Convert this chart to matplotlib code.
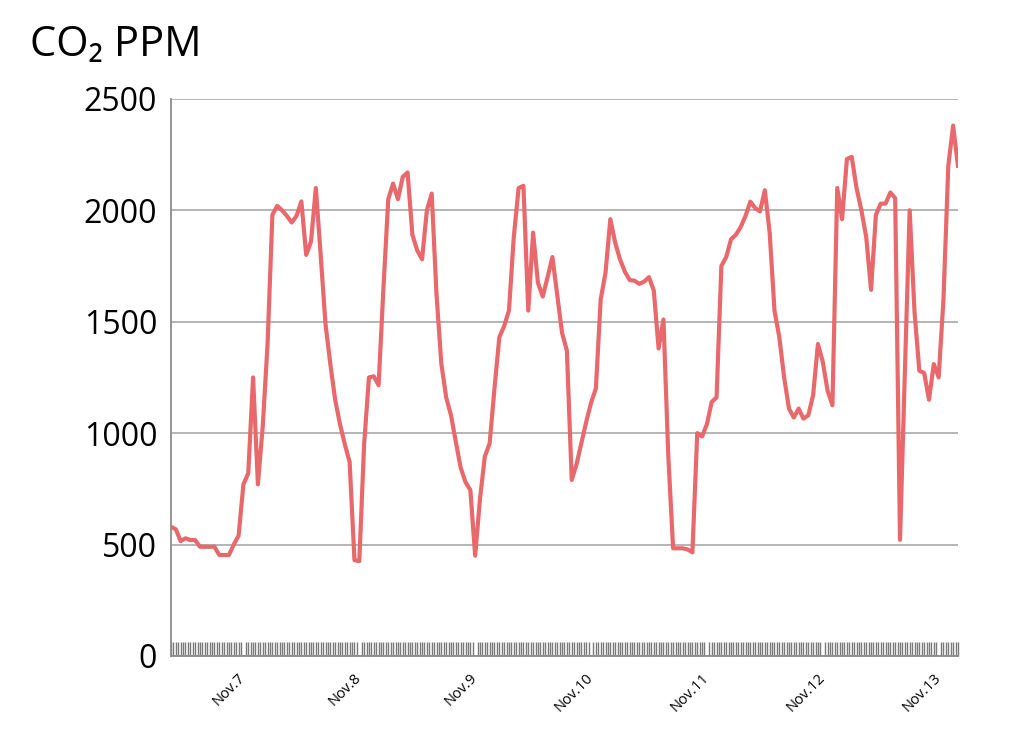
# CO2 concentration over one week (hourly readings)

import numpy as np
import matplotlib
matplotlib.use("Agg")
import matplotlib.pyplot as plt
from matplotlib.ticker import MultipleLocator

# hourly CO2 readings (ppm)
co2_ppm = [
    580, 568, 515, 528, 520, 520, 490, 490, 490, 490,
    453, 453, 453, 500, 540, 770, 820, 1250, 770, 1030,
    1400, 1980, 2020, 2000, 1975, 1945, 1975, 2040, 1800, 1860,
    2100, 1800, 1490, 1310, 1150, 1040, 950, 870, 430, 425,
    950, 1250, 1255, 1215, 1650, 2050, 2120, 2050, 2150, 2170,
    1890, 1820, 1780, 2000, 2075, 1620, 1310, 1160, 1080, 960,
    845, 780, 745, 450, 705, 895, 954, 1200, 1430, 1480,
    1550, 1880, 2100, 2110, 1550, 1900, 1675, 1613, 1700, 1790,
    1620, 1450, 1370, 790, 860, 955, 1050, 1136, 1200, 1600,
    1720, 1960, 1855, 1780, 1725, 1687, 1684, 1670, 1680, 1700,
    1640, 1380, 1510, 900, 483, 483, 483, 478, 465, 1000,
    985, 1040, 1140, 1160, 1750, 1790, 1870, 1890, 1925, 1975,
    2039, 2010, 1995, 2090, 1900, 1550, 1430, 1250, 1110, 1070,
    1110, 1065, 1080, 1170, 1400, 1320, 1190, 1125, 2100, 1960,
    2230, 2240, 2099, 2000, 1880, 1643, 1979, 2030, 2030, 2080,
    2054, 521, 1270, 2000, 1545, 1280, 1270, 1150, 1310, 1250,
    1600, 2200, 2380, 2200,
]
day_labels = ["Nov.7", "Nov.8", "Nov.9", "Nov.10", "Nov.11", "Nov.12", "Nov.13"]
day_hours = [15, 39, 63, 87, 111, 135, 159]
y_ticks = [0, 500, 1000, 1500, 2000, 2500]

hours = np.arange(len(co2_ppm))

plt.rcParams["font.family"] = ["Open Sans", "DejaVu Sans"]

fig = plt.figure(figsize=(10.24, 7.37), dpi=100)
ax = fig.add_axes([0.167, 0.11, 0.7685, 0.7558])

ax.plot(hours, co2_ppm, color="#e8686b", linewidth=3.0, solid_joinstyle="round")

ax.set_xlim(0, len(co2_ppm) - 1)
ax.set_ylim(0, 2500)
ax.set_yticks(y_ticks)
ax.yaxis.grid(True, color="#a0a0a0", linewidth=1.1)
ax.set_axisbelow(True)
ax.tick_params(axis="y", length=0, pad=10, labelsize=23)

ax.set_xticks(day_hours)
ax.set_xticklabels(day_labels, rotation=45, ha="right", va="center",
                   rotation_mode="anchor", fontsize=10.5)
ax.xaxis.set_minor_locator(MultipleLocator(0.5))
ax.tick_params(axis="x", which="major", length=0, pad=14)
ax.tick_params(axis="x", which="minor", direction="in", length=10,
               width=1.0, color="#7a7a7a")

for side in ["top", "right"]:
    ax.spines[side].set_visible(False)
for side in ["left", "bottom"]:
    ax.spines[side].set_color("#8c8c8c")
    ax.spines[side].set_linewidth(1.3)

fig.text(0.029, 0.91, "CO₂ PPM", fontsize=30, ha="left", va="bottom")

fig.savefig("out.png", dpi=100)
